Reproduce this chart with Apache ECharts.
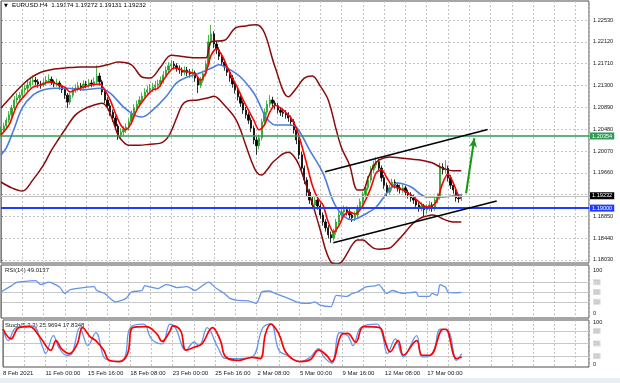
<!DOCTYPE html>
<html><head><meta charset="utf-8">
<script src="https://cdn.jsdelivr.net/npm/echarts@6/dist/echarts.min.js"></script>
<style>html,body{margin:0;padding:0;background:#fff}#c{width:620px;height:383px}</style>
</head><body><div id="c"></div>
<script>
// ---------- data ----------
const timeLabels = ['8 Feb 2021','11 Feb 00:00','15 Feb 16:00','18 Feb 08:00','23 Feb 00:00','25 Feb 16:00','2 Mar 08:00','5 Mar 00:00','9 Mar 16:00','12 Mar 08:00','17 Mar 00:00'];
const priceGrid = [1.18030,1.18440,1.18850,1.19255,1.19660,1.20070,1.20480,1.20890,1.21300,1.21710,1.22120,1.22530];
const priceLabels = [1.18030,1.18440,1.18850,1.19660,1.20070,1.20480,1.20890,1.21300,1.21710,1.22120,1.22530];

const opens = [1.2040,1.2047,1.2054,1.2065,1.2075,1.2088,1.2103,1.2107,1.2112,1.2122,1.2125,1.2131,1.2137,1.2140,1.2137,1.2133,1.2131,1.2135,1.2140,1.2142,
1.2137,1.2133,1.2135,1.2129,1.2122,1.2112,1.2099,1.2112,1.2122,1.2125,1.2129,1.2127,1.2133,1.2131,1.2135,1.2133,1.2137,1.2148,1.2137,1.2118,
1.2103,1.2092,1.2080,1.2069,1.2054,1.2037,1.2043,1.2047,1.2052,1.2062,1.2077,1.2088,1.2095,1.2103,1.2110,1.2118,1.2122,1.2125,1.2127,1.2131,
1.2133,1.2140,1.2150,1.2159,1.2167,1.2170,1.2167,1.2163,1.2159,1.2155,1.2159,1.2155,1.2152,1.2154,1.2144,1.2131,1.2140,1.2152,1.2170,1.2212,
1.2227,1.2208,1.2197,1.2185,1.2174,1.2165,1.2155,1.2144,1.2133,1.2122,1.2109,1.2097,1.2084,1.2075,1.2065,1.2050,1.2028,1.2017,1.2032,1.2062,
1.2080,1.2095,1.2103,1.2097,1.2092,1.2084,1.2080,1.2078,1.2075,1.2069,1.2062,1.2047,1.2028,1.2000,1.1975,1.1953,1.1930,1.1915,1.1906,1.1915,
1.1904,1.1887,1.1874,1.1863,1.1850,1.1844,1.1855,1.1874,1.1887,1.1893,1.1897,1.1893,1.1887,1.1882,1.1887,1.1900,1.1912,1.1925,1.1938,1.1953,
1.1972,1.1981,1.1987,1.1975,1.1957,1.1943,1.1930,1.1938,1.1949,1.1943,1.1938,1.1934,1.1938,1.1930,1.1925,1.1919,1.1915,1.1906,1.1900,1.1904,
1.1897,1.1900,1.1906,1.1900,1.1915,1.1921,1.1977,1.1972,1.1975,1.1957,1.1943,1.1934,1.1919,1.19174];
const closes = [1.2047,1.2054,1.2065,1.2075,1.2088,1.2103,1.2107,1.2112,1.2122,1.2125,1.2131,1.2137,1.2140,1.2137,1.2133,1.2131,1.2135,1.2140,1.2142,1.2137,
1.2133,1.2135,1.2129,1.2122,1.2112,1.2099,1.2112,1.2122,1.2125,1.2129,1.2127,1.2133,1.2131,1.2135,1.2133,1.2137,1.2148,1.2137,1.2118,1.2103,
1.2092,1.2080,1.2069,1.2054,1.2037,1.2043,1.2047,1.2052,1.2062,1.2077,1.2088,1.2095,1.2103,1.2110,1.2118,1.2122,1.2125,1.2127,1.2131,1.2133,
1.2140,1.2150,1.2159,1.2167,1.2170,1.2167,1.2163,1.2159,1.2155,1.2159,1.2155,1.2152,1.2154,1.2144,1.2131,1.2140,1.2152,1.2170,1.2212,1.2227,
1.2208,1.2197,1.2185,1.2174,1.2165,1.2155,1.2144,1.2133,1.2122,1.2109,1.2097,1.2084,1.2075,1.2065,1.2050,1.2028,1.2017,1.2032,1.2062,1.2080,
1.2095,1.2103,1.2097,1.2092,1.2084,1.2080,1.2078,1.2075,1.2069,1.2062,1.2047,1.2028,1.2000,1.1975,1.1953,1.1930,1.1915,1.1906,1.1915,1.1904,
1.1887,1.1874,1.1863,1.1850,1.1844,1.1855,1.1874,1.1887,1.1893,1.1897,1.1893,1.1887,1.1882,1.1887,1.1900,1.1912,1.1925,1.1938,1.1953,1.1972,
1.1981,1.1987,1.1975,1.1957,1.1943,1.1930,1.1938,1.1949,1.1943,1.1938,1.1934,1.1938,1.1930,1.1925,1.1919,1.1915,1.1906,1.1900,1.1904,1.1897,
1.1900,1.1906,1.1900,1.1915,1.1921,1.1977,1.1972,1.1975,1.1957,1.1943,1.1934,1.1919,1.19174,1.19232];
const highs = [1.2053,1.2060,1.2070,1.2082,1.2094,1.2110,1.2116,1.2118,1.2129,1.2132,1.2139,1.2145,1.2149,1.2146,1.2142,1.2139,1.2143,1.2148,1.2151,1.2147,
1.2141,1.2143,1.2139,1.2132,1.2126,1.2116,1.2117,1.2128,1.2132,1.2137,1.2135,1.2140,1.2139,1.2142,1.2141,1.2145,1.2168,1.2154,1.2141,1.2123,
1.2108,1.2097,1.2085,1.2074,1.2058,1.2050,1.2054,1.2059,1.2068,1.2083,1.2095,1.2102,1.2110,1.2117,1.2125,1.2130,1.2133,1.2135,1.2139,1.2141,
1.2147,1.2157,1.2166,1.2174,1.2178,1.2176,1.2172,1.2168,1.2164,1.2166,1.2165,1.2161,1.2162,1.2158,1.2148,1.2146,1.2158,1.2177,1.2225,1.2244,
1.2232,1.2214,1.2202,1.2190,1.2180,1.2170,1.2160,1.2150,1.2138,1.2127,1.2114,1.2102,1.2090,1.2080,1.2070,1.2055,1.2034,1.2038,1.2068,1.2087,
1.2102,1.2112,1.2109,1.2102,1.2097,1.2090,1.2087,1.2084,1.2080,1.2074,1.2067,1.2052,1.2033,1.2006,1.1980,1.1958,1.1936,1.1921,1.1922,1.1920,
1.1909,1.1892,1.1879,1.1868,1.1856,1.1861,1.1880,1.1893,1.1900,1.1905,1.1903,1.1898,1.1892,1.1894,1.1906,1.1918,1.1931,1.1945,1.1960,1.1979,
1.1989,1.1996,1.1992,1.1980,1.1962,1.1948,1.1944,1.1955,1.1954,1.1948,1.1944,1.1945,1.1942,1.1935,1.1930,1.1925,1.1920,1.1911,1.1911,1.1908,
1.1907,1.1913,1.1911,1.1921,1.1928,1.1985,1.1984,1.1990,1.1980,1.1962,1.1948,1.1939,1.1925,1.19272];
const lows = [1.2034,1.2041,1.2050,1.2060,1.2071,1.2084,1.2096,1.2101,1.2108,1.2115,1.2119,1.2126,1.2131,1.2130,1.2126,1.2124,1.2127,1.2131,1.2134,1.2131,
1.2127,1.2128,1.2122,1.2116,1.2105,1.2088,1.2094,1.2107,1.2116,1.2119,1.2120,1.2122,1.2125,1.2126,1.2127,1.2128,1.2132,1.2130,1.2112,1.2097,
1.2086,1.2073,1.2062,1.2047,1.2028,1.2031,1.2036,1.2041,1.2046,1.2057,1.2071,1.2082,1.2089,1.2097,1.2104,1.2111,1.2115,1.2118,1.2120,1.2124,
1.2127,1.2134,1.2144,1.2153,1.2160,1.2160,1.2156,1.2152,1.2148,1.2149,1.2148,1.2145,1.2146,1.2137,1.2116,1.2125,1.2135,1.2147,1.2165,1.2205,
1.2200,1.2189,1.2178,1.2167,1.2158,1.2148,1.2137,1.2126,1.2115,1.2102,1.2090,1.2077,1.2068,1.2058,1.2043,1.2020,1.2000,1.2010,1.2027,1.2056,
1.2074,1.2089,1.2090,1.2085,1.2078,1.2073,1.2071,1.2068,1.2062,1.2055,1.2040,1.2020,1.1992,1.1968,1.1945,1.1922,1.1908,1.1898,1.1900,1.1897,
1.1880,1.1867,1.1856,1.1843,1.1835,1.1839,1.1850,1.1868,1.1881,1.1887,1.1886,1.1880,1.1874,1.1876,1.1882,1.1895,1.1906,1.1920,1.1933,1.1948,
1.1966,1.1975,1.1969,1.1950,1.1936,1.1923,1.1925,1.1933,1.1937,1.1931,1.1927,1.1928,1.1924,1.1918,1.1912,1.1908,1.1899,1.1893,1.1894,1.1884,
1.1890,1.1894,1.1893,1.1895,1.1910,1.1916,1.1963,1.1965,1.1950,1.1936,1.1927,1.1912,1.1910,1.19131];

// Bollinger bands, bar index + price
const bbUpIdx = [0,4,8,11,15,20,24,30,36,40,44,49,53,56,60,64,69,74,77,79,84,88,92,96,99,103,108,111,114,117,120,123,126,128,131,134,136,138,140,142,146,150,154,158,162,166,170,173];
const bbUpVal = [1.2088,1.2110,1.2131,1.2144,1.2155,1.2161,1.2163,1.2165,1.2165,1.2169,1.2174,1.2169,1.2146,1.2144,1.2165,1.2187,1.2184,1.2182,1.2182,1.2212,1.2215,1.2238,1.2242,1.2244,1.2229,1.2165,1.2109,1.2125,1.2144,1.2148,1.2129,1.2103,1.2047,1.2013,1.1981,1.1934,1.1934,1.1957,1.1979,1.1990,1.1996,1.1994,1.1992,1.1990,1.1985,1.1975,1.1970,1.1970];
const bbLoIdx = [0,4,8,12,16,19,22,24,28,32,36,38,40,42,44,46,48,52,56,60,63,66,68,70,74,78,80,84,88,90,92,94,96,98,100,102,104,106,108,110,112,114,116,118,120,122,124,126,128,130,132,134,136,138,140,142,146,148,150,152,154,156,158,160,162,164,166,168,170,173];
const bbLoVal = [1.1949,1.1938,1.1932,1.1953,1.1981,1.2009,1.2032,1.2047,1.2075,1.2088,1.2095,1.2097,1.2088,1.2065,1.2037,1.2024,1.2018,1.2018,1.2020,1.2022,1.2035,1.2069,1.2093,1.2101,1.2103,1.2107,1.2110,1.2093,1.2069,1.2047,1.2018,1.1990,1.1968,1.1962,1.1972,1.1985,1.1994,1.2002,1.2005,1.1998,1.1981,1.1953,1.1925,1.1893,1.1859,1.1822,1.1799,1.1795,1.1799,1.1814,1.1831,1.1840,1.1840,1.1833,1.1825,1.1823,1.1825,1.1833,1.1844,1.1855,1.1867,1.1876,1.1882,1.1885,1.1887,1.1885,1.1880,1.1876,1.1874,1.1874];

// slow moving average (blue)
const blueIdx = [0,2,5,8,12,16,20,25,31,37,41,46,50,53,57,62,66,70,75,80,82,85,90,95,97,99,101,103,108,111,116,121,126,132,137,141,145,149,154,160,166,173];
const blueVal = [1.2000,1.2013,1.2050,1.2088,1.2112,1.2122,1.2125,1.2125,1.2122,1.2125,1.2116,1.2090,1.2075,1.2071,1.2084,1.2109,1.2135,1.2146,1.2154,1.2165,1.2169,1.2163,1.2146,1.2116,1.2097,1.2075,1.2062,1.2056,1.2056,1.2052,1.2009,1.1966,1.1902,1.1878,1.1889,1.1902,1.1928,1.1947,1.1940,1.1921,1.1921,1.1925];

// fast moving average (red)
const redIdx = [0,3,6,9,12,15,18,21,24,26,28,31,34,37,39,41,43,45,47,49,51,53,55,57,59,61,63,65,67,69,71,73,75,77,79,81,83,85,87,89,91,93,95,97,99,101,103,105,107,109,111,113,115,117,119,121,123,125,127,129,131,133,135,137,139,141,143,145,147,149,151,153,155,157,159,161,163,164,166,168,170,172,173];
const redVal = [1.2037,1.2056,1.2093,1.2112,1.2127,1.2131,1.2137,1.2133,1.2127,1.2118,1.2122,1.2127,1.2131,1.2133,1.2122,1.2103,1.2078,1.2056,1.2047,1.2060,1.2084,1.2099,1.2112,1.2122,1.2125,1.2140,1.2154,1.2163,1.2161,1.2157,1.2155,1.2152,1.2140,1.2155,1.2187,1.2199,1.2187,1.2165,1.2144,1.2125,1.2103,1.2084,1.2065,1.2047,1.2056,1.2080,1.2093,1.2088,1.2080,1.2069,1.2050,1.2018,1.1981,1.1943,1.1919,1.1906,1.1874,1.1855,1.1867,1.1887,1.1893,1.1889,1.1897,1.1915,1.1938,1.1966,1.1972,1.1957,1.1942,1.1938,1.1934,1.1928,1.1921,1.1912,1.1904,1.1902,1.1908,1.1915,1.1947,1.1964,1.1947,1.1923,1.1919];

// RSI(14)
const rsiIdx = [0,4,6,10,13,15,18,22,24,26,31,35,36,39,41,43,47,49,53,54,56,59,62,64,66,70,73,75,78,81,84,86,89,93,96,98,101,103,105,108,111,114,116,118,120,124,126,130,132,134,137,141,142,145,147,151,156,157,161,162,164,165,167,168,171,173];
const rsiVal = [50,63,70,72,73,65,70,60,47,55,59,61,53,47,37,30,37,50,53,63,60,57,65,63,59,61,53,60,70,57,47,37,33,32,27,50,52,47,43,37,30,27,27,30,23,20,43,41,47,50,60,63,65,47,53,47,50,41,41,47,43,65,60,50,48,49.0137];

// Stochastic(5,3,3)
const stKIdx = [0,2,5,11,15,16,19,21,24,26,29,32,35,38,40,43,46,48,53,56,60,63,65,69,72,74,77,81,84,89,94,98,101,104,107,112,116,119,121,124,127,130,132,135,141,143,145,148,151,156,158,162,165,168,171,173];
const stKVal = [88,57,88,92,41,26,69,41,22,26,88,45,76,18,10,7,18,88,96,61,49,96,88,34,53,45,88,41,14,14,18,88,97,34,22,7,18,38,18,3,76,69,45,88,96,73,26,61,18,69,18,26,84,80,10,25.9694];
const stDIdx = [0,3,6,10,14,18,20,22,25,28,30,33,35,38,40,44,47,49,54,58,60,63,64,67,69,72,75,79,82,84,89,94,97,99,101,104,107,112,116,119,122,124,128,130,133,136,142,144,146,149,151,156,158,161,166,167,171,173];
const stDVal = [84,61,88,90,65,34,57,38,26,49,88,65,57,34,10,7,26,88,90,73,55,80,92,80,34,41,49,88,57,18,10,17,14,73,96,73,26,7,12,34,22,7,73,74,53,90,88,57,30,57,22,57,22,22,84,84,14,17.8348];

// levels and drawn objects
const levelSupport = 1.19000;
const levelTarget = 1.20354;
const lastPrice = 1.19232;
const channelTop = [[121.8, 1.19684], [182.9, 1.20476]];
const channelBottom = [[124.9, 1.18351], [186.3, 1.19133]];
const arrowPath = [[174.8, 1.19279], [177.9, 1.20311]];

// ---------- chart ----------
const FONT = 'Liberation Sans, Arial, sans-serif';
const pairs = (ix, vs) => ix.map((x, k) => [x, vs[k]]);
const candles = closes.map((c, i) => [i, opens[i], c, lows[i], highs[i]]);
const dotted = { show: true, lineStyle: { color: '#c4c4c4', type: [2, 2], width: 1 } };

function xAx(gi, showLabel) {
  return {
    type: 'value', gridIndex: gi, min: 0, max: 221, interval: 8,
    axisLine: { show: false }, axisTick: { show: false },
    splitLine: dotted,
    axisLabel: showLabel ? {
      show: true, fontSize: 6, fontFamily: FONT, color: '#1a1a1a', align: 'left', margin: 3,
      showMaxLabel: false, showMinLabel: true, hideOverlap: false,
      formatter: v => { const r = Math.round(v); return (r % 16 === 0 && r / 16 < timeLabels.length) ? timeLabels[r / 16] : ''; }
    } : { show: false }
  };
}
const levelRich = {
  b: { backgroundColor: '#dcdcdc', color: '#b8b8b8', fontSize: 5, padding: [1, 1, 0, 1], fontFamily: FONT },
  t: { fontSize: 5.6, fontFamily: FONT, color: '#1a1a1a', padding: [5, 0, 0, 0] },
  d: { fontSize: 5.6, fontFamily: FONT, color: '#1a1a1a', padding: [0, 0, 6, 0] }
};
const tag = (txt, bg) => ({ show: true, position: 'end', distance: 1, formatter: txt, backgroundColor: bg, color: '#fff', fontSize: 5.6, fontFamily: FONT, padding: [1, 2, 0, 2] });

const option = {
  animation: false,
  backgroundColor: '#ffffff',
  grid: [
    { left: 1, top: 1, width: 588, height: 262, show: true, borderColor: '#4d4d4d', borderWidth: 1 },
    { left: 1, top: 265, width: 588, height: 53, show: true, borderColor: '#4d4d4d', borderWidth: 1 },
    { left: 1, top: 320, width: 588, height: 47, show: true, borderColor: '#4d4d4d', borderWidth: 1 }
  ],
  xAxis: [xAx(0, false), xAx(1, false), xAx(2, true)],
  yAxis: [
    {
      type: 'value', gridIndex: 0, position: 'right', min: 1.17970, max: 1.22887, scale: true,
      axisLine: { show: true, lineStyle: { color: '#808080' } },
      axisTick: { show: true, length: 2, lineStyle: { color: '#808080' }, customValues: priceGrid },
      splitLine: Object.assign({ customValues: priceGrid }, dotted),
      axisLabel: { customValues: priceLabels, fontSize: 5.6, fontFamily: FONT, color: '#1a1a1a', margin: 4, formatter: v => v.toFixed(5) }
    },
    {
      type: 'value', gridIndex: 1, position: 'right', min: -3, max: 105,
      axisLine: { show: true, lineStyle: { color: '#808080' } },
      axisTick: { show: false, customValues: [30, 50, 70] },
      splitLine: { show: true, customValues: [30, 50, 70], lineStyle: { color: '#c8c8c8', width: 1 } },
      axisLabel: { customValues: [0, 30, 50, 70, 100], fontSize: 5.6, fontFamily: FONT, color: '#1a1a1a', margin: 4, rich: levelRich,
        formatter: v => v === 100 ? '{t|100}' : (v === 0 ? '{d|0}' : '{b|' + v + '}') }
    },
    {
      type: 'value', gridIndex: 2, position: 'right', min: -6, max: 106,
      axisLine: { show: true, lineStyle: { color: '#808080' } },
      axisTick: { show: false, customValues: [20, 50, 80] },
      splitLine: { show: true, customValues: [20, 50, 80], lineStyle: { color: '#c8c8c8', width: 1 } },
      axisLabel: { customValues: [0, 20, 50, 80, 100], fontSize: 5.6, fontFamily: FONT, color: '#1a1a1a', margin: 4, rich: levelRich,
        formatter: v => (v === 0 || v === 100) ? String(v) : '{b|' + v + '}' }
    }
  ],
  graphic: [
    { type: 'rect', left: 0, top: 378, shape: { width: 620, height: 5 }, style: { fill: '#e9eef5' }, silent: true },
    { type: 'text', left: 4, top: 3, style: { text: '\u25BC', fontSize: 5, fill: '#000', fontFamily: 'DejaVu Sans' } },
    { type: 'text', left: 12, top: 2, style: { text: 'EURUSD.H4  1.19174 1.19272 1.19131 1.19232', fontSize: 6.2, fill: '#000', fontFamily: FONT } },
    { type: 'text', left: 5, top: 267, style: { text: 'RSI(14) 49.0137', fontSize: 6, fill: '#1a1a1a', fontFamily: FONT } },
    { type: 'text', left: 5, top: 322, style: { text: 'Stoch(5,3,3) 25.9694 17.8348', fontSize: 6, fill: '#1a1a1a', fontFamily: FONT } }
  ],
  series: [
    {
      type: 'line', xAxisIndex: 0, yAxisIndex: 0, data: [], silent: true,
      markLine: {
        silent: true, symbol: ['none', 'none'], animation: false, precision: 5,
        data: [
          { yAxis: lastPrice, lineStyle: { color: '#c0c0c0', width: 1, type: 'solid' }, label: tag(lastPrice.toFixed(5), '#000000') },
          { yAxis: levelTarget, lineStyle: { color: '#2e9a55', width: 1.5, type: 'solid' }, label: tag(levelTarget.toFixed(5), '#2e9a55') },
          { yAxis: levelSupport, lineStyle: { color: '#1f3cff', width: 2, type: 'solid' }, label: tag(levelSupport.toFixed(5), '#1f3cff') }
        ]
      }
    },
    {
      type: 'candlestick', xAxisIndex: 0, yAxisIndex: 0, data: candles, encode: { x: 0, y: [1, 2, 3, 4] },
      barWidth: 1.8,
      itemStyle: { color: '#23a223', color0: '#000000', borderColor: '#23a223', borderColor0: '#000000', borderWidth: 0.8 }
    },
    { type: 'line', xAxisIndex: 0, yAxisIndex: 0, data: pairs(bbUpIdx, bbUpVal), showSymbol: false, smooth: 0.35, lineStyle: { color: '#8b0a0a', width: 1.5 } },
    { type: 'line', xAxisIndex: 0, yAxisIndex: 0, data: pairs(bbLoIdx, bbLoVal), showSymbol: false, smooth: 0.35, lineStyle: { color: '#8b0a0a', width: 1.5 } },
    { type: 'line', xAxisIndex: 0, yAxisIndex: 0, data: pairs(blueIdx, blueVal), showSymbol: false, smooth: 0.35, lineStyle: { color: '#4b7de0', width: 1.6 } },
    { type: 'line', xAxisIndex: 0, yAxisIndex: 0, data: pairs(redIdx, redVal), showSymbol: false, smooth: 0.3, lineStyle: { color: '#ff0000', width: 1.6 } },
    {
      type: 'line', xAxisIndex: 0, yAxisIndex: 0, data: [], silent: true,
      markLine: {
        silent: true, animation: false, label: { show: false }, precision: 5,
        data: [
          [{ coord: channelTop[0], symbol: 'none' }, { coord: channelTop[1], symbol: 'none', lineStyle: { color: '#000', width: 1.5, type: 'solid' } }],
          [{ coord: channelBottom[0], symbol: 'none' }, { coord: channelBottom[1], symbol: 'none', lineStyle: { color: '#000', width: 1.5, type: 'solid' } }],
          [{ coord: arrowPath[0], symbol: 'none' }, { coord: arrowPath[1], symbol: 'arrow', symbolSize: [6, 9], lineStyle: { color: '#169a16', width: 2, type: 'solid' }, itemStyle: { color: '#169a16' } }]
        ]
      }
    },
    { type: 'line', xAxisIndex: 1, yAxisIndex: 1, data: pairs(rsiIdx, rsiVal), showSymbol: false, smooth: 0.2, lineStyle: { color: '#6495ed', width: 1.3 } },
    { type: 'line', xAxisIndex: 2, yAxisIndex: 2, data: pairs(stKIdx, stKVal), showSymbol: false, smooth: 0.4, lineStyle: { color: '#6495ed', width: 1.3 } },
    { type: 'line', xAxisIndex: 2, yAxisIndex: 2, data: pairs(stDIdx, stDVal), showSymbol: false, smooth: 0.4, lineStyle: { color: '#ff0000', width: 1.7 } }
  ]
};
const chart = echarts.init(document.getElementById('c'), null, { renderer: 'canvas' });
chart.setOption(option);
</script>
</body></html>
